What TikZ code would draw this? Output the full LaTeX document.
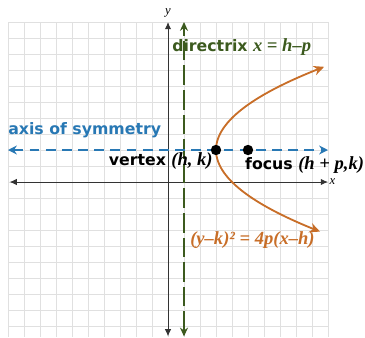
\documentclass[tikz,border=0pt]{standalone}
\usepackage{fontspec}
\setmainfont{DejaVu Sans}
\newfontfamily\eqfont{Liberation Serif}
\usepackage{tikz}
\usetikzlibrary{arrows.meta,positioning}
\definecolor{ParabOrange}{HTML}{C86E28}
\definecolor{SymBlue}{HTML}{2878B4}
\definecolor{DirGreen}{HTML}{3C5A1E}
\newcommand{\eqtxt}[1]{{\eqfont\fontsize{13.2}{15}\selectfont\bfseries\itshape #1}}

\begin{document}
\begin{tikzpicture}[
    x=0.4cm,y=0.4cm,
    lbl/.style={font=\fontsize{11.2}{13}\selectfont\bfseries,inner sep=0pt},
    axline/.style={{Latex[length=1.8mm,width=1.6mm]}-{Latex[length=1.8mm,width=1.6mm]},draw=black!80,line width=0.7pt},
    symline/.style={{Stealth[length=2.2mm,width=2.2mm]}-{Stealth[length=2.2mm,width=2.2mm]},draw=SymBlue,line width=1.4pt,dash pattern=on 7pt off 4.5pt},
    dirline/.style={{Stealth[length=2.2mm,width=2mm]}-{Stealth[length=2.2mm,width=2mm]},draw=DirGreen,line width=1.6pt,dash pattern=on 14pt off 3.5pt},
    parab/.style={{Stealth[length=2.6mm,width=2.4mm]}-{Stealth[length=2.6mm,width=2.4mm]},draw=ParabOrange,line width=1.3pt},
    dot/.style={circle,fill=black,inner sep=0pt,minimum size=2.6mm}
  ]
    \useasboundingbox (-10.5,-9.6875) rectangle (12.3125,11.375);
    % grid
    \draw[black!12,line width=0.6pt,step=1] (-10,-9.6875) grid (10,10);
    % axes
    \coordinate (xl) at (-9.9,0);
    \coordinate (xr) at (10,0);
    \coordinate (yb) at (0,-9.65);
    \coordinate (yt) at (0,10);
    \draw[axline] (xl)--(xr);
    \draw[axline] (yb)--(yt);
    \node[font=\eqfont\itshape\small,inner sep=0pt] (ylab) at (0,10.55) {y};
    \node[font=\eqfont\itshape\small,inner sep=0pt,right=1pt of xr] (xlab) {x};
    % directrix
    \coordinate (db) at (1,-9.65);
    \coordinate (dt) at (1,10);
    \draw[dirline] (db)--(dt);
    \node[lbl,anchor=west,text=DirGreen] (dir) at (0.25,8.44) {directrix \eqtxt{x = h–p}};
    % axis of symmetry
    \coordinate (sl) at (-10,2);
    \coordinate (sr) at (10,2);
    \draw[symline] (sl)--(sr);
    \node[lbl,anchor=west,text=SymBlue] (sym) at (-10,3.25) {axis of symmetry};
    % parabola
    \draw[parab] plot[domain=-5.1:5.2,samples=60,smooth] ({3+(\x)^2/4},{2+\x});
    \node[dot] (vtx) at (3,2) {};
    \node[dot] (foc) at (5,2) {};
    \node[lbl,anchor=east] (vtxlab) at (2.81,1.3) {vertex \eqtxt{(h, k)}};
    \node[lbl,anchor=west] (foclab) at (4.81,1.06) {focus \eqtxt{(h + p,k)}};
    \node[lbl,text=ParabOrange] (eqlab) at (5.28,-3.63) {\eqtxt{(y–k)² = 4p(x–h)}};
  \end{tikzpicture}
\end{document}
